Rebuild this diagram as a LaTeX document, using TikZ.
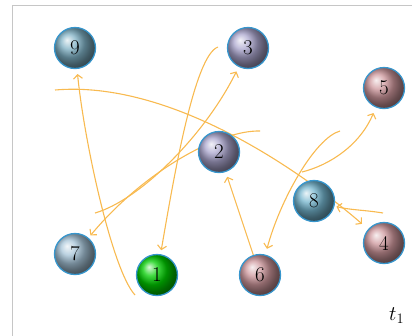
\documentclass[tikz,border=0pt]{standalone}
\usetikzlibrary{arrows.meta}
\pgfdeclarelayer{bg}
\pgfsetlayers{bg,main}
\definecolor{edgec}{RGB}{248,186,80}
\definecolor{rimc}{RGB}{55,150,205}
\definecolor{cnine}{RGB}{125,175,195}
\definecolor{cpurple}{RGB}{170,165,205}
\definecolor{cpink}{RGB}{205,150,155}
\definecolor{ceight}{RGB}{115,180,205}
\definecolor{cseven}{RGB}{165,195,215}
\definecolor{cgreen}{RGB}{0,205,0}
\begin{document}
\begin{tikzpicture}[x=1pt,y=-1pt,
  ball/.style={circle,minimum size=41pt,inner sep=0pt,draw=rimc,line width=1.3pt,shading=ball,font=\fontsize{21}{25}\selectfont},
  link/.style={draw=edgec,line width=1.1pt,-{Straight Barb[length=4pt,width=9pt]}}]
\useasboundingbox (0,0) rectangle (412,335);
\draw[gray!45,line width=1pt] (12.5,336) -- (12.5,5.5) -- (413,5.5);
\node[ball,ball color=cnine] (n9) at (75,48) {9};
\node[ball,ball color=cpurple] (n3) at (248,48) {3};
\node[ball,ball color=cpink] (n5) at (384,88) {5};
\node[ball,ball color=cpurple] (n2) at (219,152) {2};
\node[ball,ball color=ceight] (n8) at (314,201) {8};
\node[ball,ball color=cseven] (n7) at (75,254) {7};
\node[ball,ball color=cgreen] (n1) at (157,275) {1};
\node[ball,ball color=cpink] (n6) at (260,275) {6};
\node[ball,ball color=cpink] (n4) at (384,243) {4};
\node[font=\fontsize{21}{25}\selectfont,anchor=base west,inner sep=0pt] (t) at (389,320) {$t_1$};
\begin{pgfonlayer}{bg}
\coordinate (s9) at (135,295);
\coordinate (s1) at (218,47);
\coordinate (s4) at (55,90);
\coordinate (s7) at (260,131);
\coordinate (s3) at (95,213);
\coordinate (s6) at (340,131);
\coordinate (s5) at (302,172);
\coordinate (s8) at (383,213);
\draw[link,shorten >=5pt] (s9) .. controls (112,270) and (84,140) .. (n9);
\draw[link,shorten >=4pt] (s1) .. controls (195,55) and (175,170) .. (n1);
\draw[link,shorten >=8pt] (s4) .. controls (170,80) and (300,170) .. (n4);
\draw[link,shorten >=3pt] (s7) .. controls (220,130) and (145,170) .. (n7);
\draw[link,shorten >=5pt] (s3) .. controls (140,200) and (205,135) .. (n3);
\draw[link,shorten >=6pt] (s6) .. controls (315,138) and (280,200) .. (n6);
\draw[link,shorten >=6pt] (s5) .. controls (330,165) and (360,145) .. (n5);
\draw[link,shorten >=5pt] (n6) -- (n2);
\draw[link,shorten >=2pt] (s8) .. controls (365,210) and (350,210) .. (n8);
\end{pgfonlayer}
\end{tikzpicture}
\end{document}
